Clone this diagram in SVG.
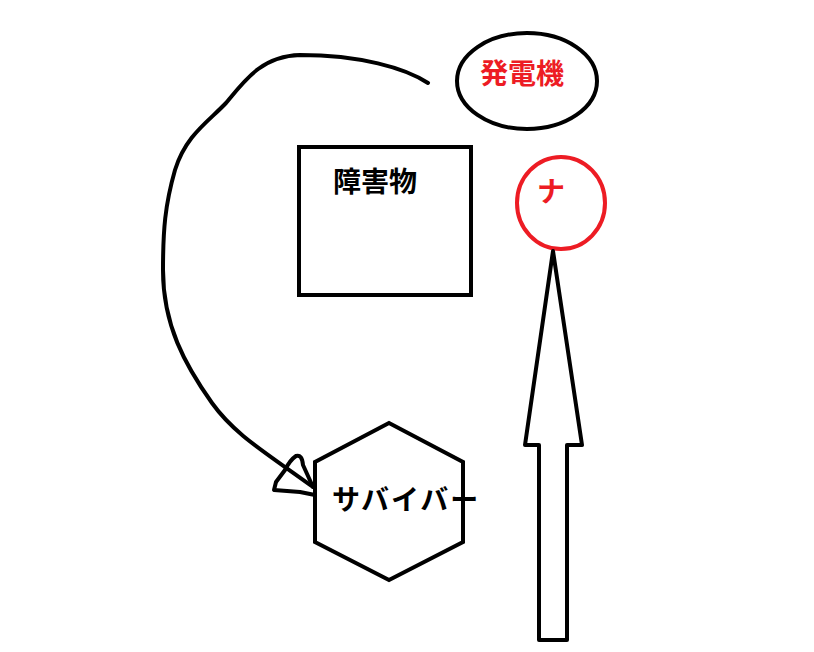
<svg xmlns="http://www.w3.org/2000/svg" width="814" height="652" viewBox="0 0 814 652">
<style>
.shape{fill:none;stroke:#000;stroke-width:4;}
.red{fill:none;stroke:#ed1c24;stroke-width:4;}
.lbl{font-family:"Noto Sans CJK JP","Noto Sans",sans-serif;font-weight:bold;font-size:28px;}
.lblk{fill:#000;}
.lblr{fill:#ed1c24;}
.pen{fill:none;stroke:#000;stroke-width:4;stroke-linejoin:round;stroke-linecap:round;}
</style>
<rect width="814" height="652" fill="#fff"/>
<g id="generator">
<ellipse class="shape" cx="527" cy="81" rx="70" ry="48"/>
<text class="lbl lblr" x="522" y="84" text-anchor="middle">発電機</text>
</g>
<g id="na">
<ellipse class="red" cx="561" cy="203" rx="44" ry="46"/>
<text class="lbl lblr" x="551" y="202" text-anchor="middle">ナ</text>
</g>
<g id="obstacle">
<rect class="shape" x="299" y="147" width="172" height="148"/>
<text class="lbl lblk" x="333" y="192">障害物</text>
</g>
<g id="survivor">
<polygon class="shape" points="389,423 463,462 463,542 389,580 315,542 315,462"/>
<text class="lbl lblk" x="332" y="510" letter-spacing="2">サバイバー</text>
</g>
<g id="connectors">
<path class="pen" d="M428,83 C405,68 360,55 300,55 C262,56 245,80 226,103 C208,122 186,135 175,170 C165,205 163,230 163,270 C163,325 185,365 212,403 C235,435 265,452 313,487"/>
<path class="pen" d="M313,487 L303,465 Q302,454 296,456 Q290,460 285,470 L276,482 L274,490 L300,492 L315,495"/>
<path class="shape" stroke-linejoin="round" d="M553,251 L582,445 L567,445 L567,640 L539,640 L539,445 L525,445 Z"/>
</g>
</svg>
